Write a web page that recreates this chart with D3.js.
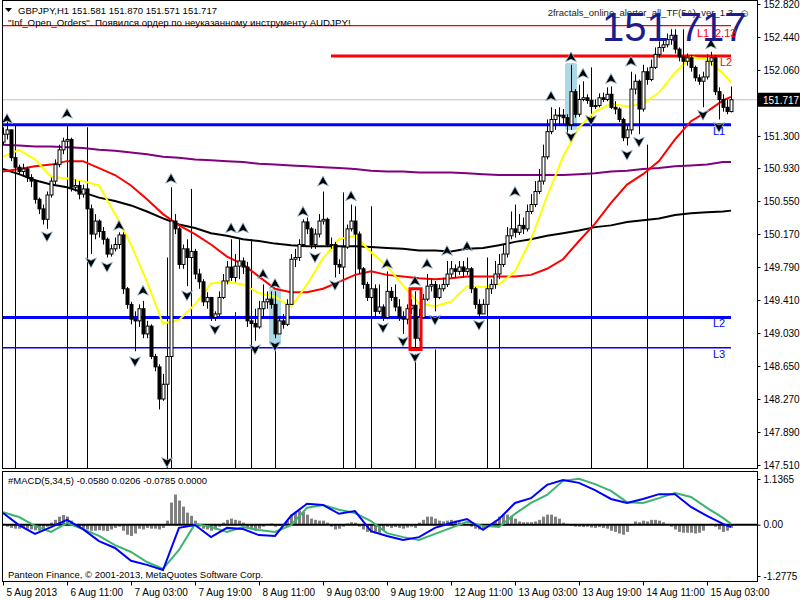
<!DOCTYPE html>
<html>
<head>
<meta charset="utf-8">
<script src="https://cdn.jsdelivr.net/npm/d3@7"></script>
<style>
body { margin: 0; background: #fff; }
text { font-family: "Liberation Sans", Arial, sans-serif; }
</style>
</head>
<body>
<div id="chart"></div>
<script>
// GBPJPY H1, 5 Aug - 15 Aug 2013, one value per bar
const firstOpen = 151.23;
const closes = [
  151.32,151.37,151.05,150.94,150.89,150.92,150.82,150.78,150.57,150.46,
  150.34,150.62,150.78,150.97,151.14,151.24,151.26,150.71,150.73,150.63,
  150.69,150.46,150.17,150.32,150.20,150.11,149.94,150.00,150.05,150.16,
  149.54,149.36,149.19,149.17,149.31,149.02,149.11,148.76,148.64,148.27,
  148.44,148.76,150.32,150.23,149.82,150.00,149.90,149.97,149.71,149.62,
  149.39,149.44,149.21,149.25,149.44,149.63,149.79,149.67,149.80,149.86,
  149.79,149.17,149.14,149.10,149.31,149.39,149.42,149.36,149.02,149.17,
  149.13,149.36,149.88,149.90,150.05,150.31,150.23,150.05,150.17,150.32,
  150.34,150.05,150.05,149.82,149.79,150.02,150.23,150.32,150.17,149.77,
  149.59,149.44,149.54,149.28,149.33,149.21,149.51,149.44,149.33,149.21,
  149.19,149.31,149.35,148.97,149.21,149.42,149.57,149.59,149.44,149.54,
  149.59,149.71,149.77,149.74,149.79,149.74,149.77,149.54,149.36,149.25,
  149.36,149.54,149.59,149.71,149.82,149.94,150.15,150.23,150.19,150.27,
  150.23,150.43,150.51,150.66,150.78,151.06,151.35,151.49,151.54,151.54,
  151.51,151.43,151.81,151.55,151.72,151.74,151.71,151.64,151.65,151.74,
  151.72,151.78,151.63,151.61,151.49,151.28,151.37,151.84,151.93,151.61,
  152.04,151.95,152.09,152.24,152.32,152.35,152.41,152.46,152.30,152.21,
  152.16,152.20,152.09,151.97,151.93,151.98,152.16,152.20,151.81,151.72,
  151.63,151.581,151.717
];
const highs = [
  151.40,151.47,151.37,151.09,150.97,150.98,150.94,150.86,150.80,150.59,
  150.51,150.66,150.82,151.03,151.20,151.28,151.42,151.28,150.80,150.78,
  150.74,150.71,150.51,150.40,150.34,150.25,150.13,150.05,150.13,150.19,
  150.19,149.56,149.39,149.28,149.36,149.40,149.17,149.13,148.79,148.67,
  148.56,148.82,150.63,150.40,150.25,150.05,150.11,150.11,150.00,149.77,
  149.65,149.50,149.44,149.28,149.51,149.71,149.86,150.11,149.94,150.11,
  149.90,149.85,149.31,149.31,149.40,149.59,149.51,149.51,149.51,149.21,
  149.25,149.42,149.94,150.00,150.11,150.34,150.36,150.25,150.23,150.40,
  150.66,150.36,150.13,150.08,149.88,150.11,150.28,150.51,150.36,150.20,
  149.79,149.62,149.62,149.59,149.59,149.36,149.74,149.56,149.59,149.42,
  149.28,149.36,149.42,149.51,149.31,149.48,149.71,149.65,149.63,149.59,
  149.67,149.86,149.86,149.82,149.86,149.86,149.90,149.79,149.56,149.42,
  149.42,149.59,149.65,149.86,149.94,150.05,150.25,150.43,150.51,150.40,
  150.36,150.51,150.63,150.78,150.92,151.20,151.49,151.63,151.61,151.63,
  151.61,151.55,152.12,151.84,151.89,151.93,151.78,151.74,151.72,151.79,
  151.80,151.86,151.87,151.70,151.63,151.51,151.43,152.04,152.01,151.95,
  152.12,152.09,152.18,152.32,152.39,152.41,152.48,152.53,152.53,152.32,
  152.30,152.25,152.23,152.11,152.01,152.04,152.24,152.27,152.23,151.86,
  151.78,151.72,151.870
];
const lows = [
  151.20,151.26,151.01,150.89,150.85,150.85,150.77,150.71,150.52,150.40,
  150.28,150.23,150.59,150.74,150.94,151.09,151.14,150.66,150.66,150.57,
  150.59,150.40,149.94,150.11,150.13,150.05,149.90,149.91,149.97,150.00,
  149.48,149.31,149.13,148.82,149.10,148.97,148.97,148.73,148.59,148.15,
  148.25,148.39,148.73,150.17,149.77,149.77,149.57,149.77,149.65,149.54,
  149.34,149.31,149.17,149.17,149.21,149.42,149.59,149.63,149.62,149.65,
  149.71,149.10,148.97,148.94,149.08,149.21,149.31,149.31,148.97,149.08,
  149.08,149.11,149.36,149.79,149.86,150.02,150.17,150.00,150.00,150.13,
  150.28,150.02,150.00,149.67,149.71,149.77,150.00,150.20,150.11,149.71,
  149.54,149.40,149.36,149.21,149.25,149.17,149.19,149.40,149.28,149.17,
  149.02,149.13,149.25,148.87,148.94,149.19,149.40,149.51,149.28,149.42,
  149.51,149.56,149.67,149.67,149.70,149.67,149.70,149.49,149.31,149.21,
  149.25,149.31,149.48,149.54,149.65,149.79,149.90,150.11,150.13,150.16,
  150.17,150.20,150.40,150.48,150.63,150.74,151.03,151.32,151.37,151.43,
  151.43,151.32,151.37,151.51,151.52,151.70,151.67,151.57,151.61,151.63,
  151.69,151.70,151.61,151.55,151.46,151.24,151.19,151.32,151.78,151.32,
  151.58,151.89,151.93,152.07,152.20,152.27,152.32,152.35,152.25,152.16,
  152.11,152.11,152.04,151.93,151.89,151.63,151.95,152.11,151.77,151.49,
  151.58,151.55,151.571
];

// moving averages, read every 4th bar (last one at bar 182)
const maYellow = [151.06,151.14,151.03,150.83,150.81,150.78,150.73,150.40,150.05,149.62,
  149.14,149.18,149.36,149.60,149.62,149.59,149.49,149.45,149.33,149.59,
  149.89,150.11,150.15,149.96,149.80,149.58,149.37,149.34,149.39,149.57,
  149.56,149.59,149.74,150.11,150.60,151.06,151.40,151.58,151.67,151.64,
  151.67,151.80,152.03,152.21,152.18,152.02,151.92];
const maRed = [150.89,150.92,150.95,150.97,151.01,151.01,150.93,150.85,150.73,150.57,
  150.40,150.27,150.17,150.05,149.91,149.82,149.68,149.54,149.50,149.50,
  149.54,149.62,149.70,149.74,149.70,149.68,149.66,149.65,149.66,149.68,
  149.68,149.68,149.68,149.70,149.77,149.88,150.09,150.29,150.53,150.74,
  150.86,151.01,151.26,151.47,151.58,151.71,151.75];
const maBlack = [150.92,150.86,150.79,150.74,150.71,150.65,150.59,150.55,150.50,150.43,
  150.35,150.28,150.24,150.18,150.15,150.11,150.09,150.06,150.04,150.03,
  150.03,150.03,150.03,150.02,150.01,150.00,149.98,149.98,149.97,150.00,
  150.01,150.04,150.08,150.11,150.15,150.18,150.21,150.25,150.27,150.31,
  150.33,150.35,150.39,150.41,150.42,150.43,150.44];
const maPurple = [151.20,151.19,151.18,151.18,151.17,151.16,151.14,151.13,151.11,151.09,
  151.06,151.05,151.03,151.02,151.01,151.00,150.98,150.97,150.96,150.95,
  150.94,150.93,150.92,150.90,150.89,150.89,150.88,150.88,150.88,150.87,
  150.86,150.85,150.85,150.85,150.85,150.85,150.86,150.87,150.89,150.90,
  150.92,150.93,150.95,150.96,150.97,151.00,151.00];

// MACD(5,34,5): main and signal every 4th bar, histogram for each bar
const macdMain = [0.29,-0.01,-0.23,-0.06,0.12,-0.11,-0.41,-0.58,-0.90,-1.00,
  -1.13,-0.08,-0.01,-0.31,-0.08,-0.11,-0.26,-0.28,0.22,0.52,
  0.49,0.27,0.34,-0.16,-0.28,-0.38,-0.31,-0.08,0.04,0.14,
  -0.13,0.14,0.54,0.66,0.99,1.11,1.04,0.86,0.64,0.54,
  0.64,0.76,0.76,0.44,0.22,0.02,-0.058];
const macdSignal = [0.31,0.19,-0.03,-0.18,0.04,-0.11,-0.28,-0.51,-0.68,-0.93,
  -1.10,-0.63,0.02,-0.06,-0.18,-0.06,-0.13,-0.18,-0.01,0.42,
  0.49,0.37,0.29,0.09,-0.21,-0.31,-0.38,-0.23,-0.08,0.07,
  -0.03,-0.06,0.27,0.54,0.74,1.09,1.14,1.01,0.84,0.56,
  0.54,0.66,0.79,0.69,0.42,0.17,0.0206];
const macdHist = [
  0.02,-0.05,-0.08,-0.1,-0.1,-0.08,-0.1,-0.12,-0.14,-0.15,
  -0.12,-0.05,0.05,0.12,0.2,0.24,0.2,0.1,-0.05,-0.08,
  -0.1,-0.12,-0.15,-0.15,-0.14,-0.15,-0.16,-0.12,-0.08,-0.05,
  -0.15,-0.25,-0.28,-0.22,-0.1,-0.12,-0.08,-0.1,-0.1,-0.12,
  -0.08,0.1,0.55,0.75,0.6,0.45,0.3,0.22,0.1,-0.05,
  -0.1,-0.12,-0.15,-0.12,-0.05,0.05,0.12,0.15,0.12,0.1,
  0.05,-0.08,-0.12,-0.15,-0.1,-0.05,0.02,0.03,-0.05,-0.03,
  -0.02,0.1,0.25,0.3,0.35,0.32,0.25,0.15,0.12,0.1,
  0.1,0.05,-0.05,-0.12,-0.1,-0.05,0.03,0.06,0.05,-0.05,
  -0.12,-0.18,-0.2,-0.22,-0.2,-0.15,-0.05,-0.08,-0.06,-0.08,
  -0.1,-0.07,-0.05,-0.08,0.05,0.12,0.2,0.2,0.15,0.1,
  0.08,0.1,0.12,0.1,0.06,0.05,0.02,-0.05,-0.1,-0.12,
  -0.1,-0.05,0.02,0.1,0.2,0.25,0.25,0.22,0.15,0.08,
  0.06,0.06,0.06,0.08,0.12,0.2,0.25,0.25,0.2,0.15,
  0.05,0.02,-0.03,-0.05,-0.05,-0.06,-0.05,-0.07,-0.08,-0.06,
  -0.08,-0.1,-0.15,-0.18,-0.22,-0.25,-0.18,-0.02,0.08,0.06,
  0.1,0.08,0.12,0.12,0.1,0.06,0.02,-0.05,-0.12,-0.18,
  -0.2,-0.2,-0.2,-0.22,-0.2,-0.15,-0.02,0.02,-0.05,-0.12,
  -0.18,-0.15,-0.0785
];

// fractals: bar index and price where the arrow sits
const fractalUpBars = [1,16,29,35,42,57,60,65,68,75,80,87,96,103,106,111,116,128,137,142,145,152,157,177];
const fractalUpPrices = [151.49,151.55,150.26,149.51,150.80,150.23,150.23,149.70,149.59,150.42,150.77,150.60,149.82,149.62,149.82,149.97,150.02,150.65,151.75,152.20,152.01,151.95,152.15,152.35];
const fractalDownBars = [11,22,26,33,41,46,53,63,68,78,83,95,100,103,108,119,142,147,156,159,175,179];
const fractalDownPrices = [150.15,149.85,149.80,148.71,147.55,149.47,149.08,148.85,148.89,149.91,149.59,149.10,148.94,148.76,149.19,149.13,151.30,151.49,151.09,151.24,151.55,151.41];
const markerBars = [3,16,21,41,42,47,58,62,68,85,88,92,103,108,121,124,147,161,170];
const markerTops = [151.43,151.40,151.40,149.90,150.71,150.69,149.27,150.11,148.90,150.65,150.49,150.49,148.79,148.84,149.90,149.21,152.09,151.20,152.53];

// support / resistance levels
const levelPrices = [152.57, 152.22, 151.43, 149.21, 148.86];
const levelStartBars = [0, 82, 0, 0, 0];
const levelNames = ["", "L2", "L1", "L2", "L3"];
const signalBoxBars = [68, 142];
const signalBoxHigh = [149.54, 152.14];
const signalBoxLow = [148.89, 151.37];
const alertBar = 103, alertHigh = 149.54, alertLow = 148.84;

const lastPrice = 151.717;
// 151.680 sits under the current price tag, so it is not listed
const priceTicks = [152.82,152.44,152.06,151.30,150.93,150.55,150.17,149.79,149.41,149.03,148.65,148.27,147.89,147.51];
const macdTicks = [1.1365, 0, -1.2775];
const macdTickLabels = ["1.1365", "0.00", "-1.2775"];
const timeTickBars = [0,16,32,48,64,80,96,112,128,144,160,176];
const timeLabels = ["5 Aug 2013","6 Aug 11:00","7 Aug 03:00","7 Aug 19:00","8 Aug 11:00","9 Aug 03:00",
  "9 Aug 19:00","12 Aug 11:00","13 Aug 03:00","13 Aug 19:00","14 Aug 11:00","15 Aug 03:00"];

const width = 800, height = 600;
const left = 2, right = 757;
const mainBottom = 468, macdTop = 471, macdBottom = 581;

const svg = d3.select("#chart").append("svg")
  .attr("width", width)
  .attr("height", height)
  .style("display", "block");

const x = d3.scaleLinear().domain([0, closes.length - 1]).range([3, 731]);
const y = d3.scaleLinear().domain([147.51, 152.82]).range([465, 4]);
const ym = d3.scaleLinear().domain([-1.2775, 1.1365]).range([576, 479]);

svg.append("clipPath").attr("id", "mainClip")
  .append("rect").attr("x", left).attr("y", 0).attr("width", right - left).attr("height", mainBottom);
svg.append("clipPath").attr("id", "macdClip")
  .append("rect").attr("x", left).attr("y", macdTop).attr("width", right - left).attr("height", macdBottom - macdTop);

const main = svg.append("g").attr("clip-path", "url(#mainClip)");
const opens = closes.map((c, i) => i === 0 ? firstOpen : closes[i - 1]);
const maBars = d3.range(0, 181, 4).concat([182]);

// last price line
main.append("line")
  .attr("x1", left).attr("x2", right)
  .attr("y1", y(lastPrice)).attr("y2", y(lastPrice))
  .attr("stroke", "#c0c0c0");

// signal boxes behind candles
main.selectAll("rect.sig")
  .data(signalBoxBars)
  .enter().append("rect")
  .attr("x", d => x(d) - 6)
  .attr("width", 12)
  .attr("y", (d, i) => y(signalBoxHigh[i]))
  .attr("height", (d, i) => y(signalBoxLow[i]) - y(signalBoxHigh[i]))
  .attr("rx", 2)
  .attr("fill", "#add8e6");

// vertical fractal markers
main.selectAll("line.mark")
  .data(markerBars)
  .enter().append("line")
  .attr("x1", d => x(d) + 0.5).attr("x2", d => x(d) + 0.5)
  .attr("y1", (d, i) => y(markerTops[i]))
  .attr("y2", mainBottom)
  .attr("stroke", "#000");

// levels
const levelColor = ["#ff0000", "#ff0000", "#0000ff", "#0000ff", "#0000ff"];
const levelWidth = [1.2, 3, 3, 3, 1.5];
main.selectAll("line.level")
  .data(levelPrices)
  .enter().append("line")
  .attr("x1", (d, i) => levelStartBars[i] === 0 ? left : x(levelStartBars[i]))
  .attr("x2", x(closes.length - 1))
  .attr("y1", d => y(d)).attr("y2", d => y(d))
  .attr("stroke", (d, i) => levelColor[i])
  .attr("stroke-width", (d, i) => levelWidth[i]);

// moving averages
const maLine = d3.line().x(d => x(d[0])).y(d => y(d[1]));
[[maPurple, "#800080"], [maBlack, "#000000"], [maRed, "#ff0000"], [maYellow, "#ffff00"]].forEach(([vals, col]) => {
  main.append("path")
    .datum(maBars.map((b, i) => [b, vals[i]]))
    .attr("fill", "none")
    .attr("stroke", col)
    .attr("stroke-width", 2)
    .attr("d", maLine);
});

// candles
const candles = main.selectAll("g.candle")
  .data(closes)
  .enter().append("g");
candles.append("line")
  .attr("x1", (d, i) => x(i) + 0.5).attr("x2", (d, i) => x(i) + 0.5)
  .attr("y1", (d, i) => y(highs[i]))
  .attr("y2", (d, i) => y(lows[i]))
  .attr("stroke", "#000");
candles.append("rect")
  .attr("x", (d, i) => x(i) - 1)
  .attr("width", 3)
  .attr("y", (d, i) => y(Math.max(opens[i], d)))
  .attr("height", (d, i) => Math.max(1, Math.abs(y(opens[i]) - y(d))))
  .attr("fill", (d, i) => d >= opens[i] ? "#fff" : "#000")
  .attr("stroke", "#000")
  .attr("stroke-width", 1);

// alert box
main.append("rect")
  .attr("x", x(alertBar) - 5)
  .attr("width", 11)
  .attr("y", y(alertHigh))
  .attr("height", y(alertLow) - y(alertHigh))
  .attr("fill", "none")
  .attr("stroke", "#ff0000")
  .attr("stroke-width", 3);

// fractal arrows
const upArrow = "M0,-6L5.5,4L0,1.5L-5.5,4Z";
const downArrow = "M0,6L5.5,-4L0,-1.5L-5.5,-4Z";
main.selectAll("path.fup")
  .data(fractalUpBars)
  .enter().append("path")
  .attr("transform", (d, i) => `translate(${x(d)},${y(fractalUpPrices[i])})`)
  .attr("d", upArrow)
  .attr("fill", "#000")
  .attr("stroke", "#9cc3e0")
  .attr("stroke-width", 0.8);
main.selectAll("path.fdn")
  .data(fractalDownBars)
  .enter().append("path")
  .attr("transform", (d, i) => `translate(${x(d)},${y(fractalDownPrices[i])})`)
  .attr("d", downArrow)
  .attr("fill", "#000")
  .attr("stroke", "#9cc3e0")
  .attr("stroke-width", 0.8);

// MACD panel
const macd = svg.append("g").attr("clip-path", "url(#macdClip)");
macd.selectAll("rect.hist")
  .data(macdHist)
  .enter().append("rect")
  .attr("x", (d, i) => x(i) - 1)
  .attr("width", 3)
  .attr("y", d => Math.min(ym(d), ym(0)))
  .attr("height", d => Math.abs(ym(d) - ym(0)))
  .attr("fill", "#808080");
macd.append("line")
  .attr("x1", left).attr("x2", right)
  .attr("y1", ym(0)).attr("y2", ym(0))
  .attr("stroke", "#000").attr("stroke-width", 2);
const macdLine = d3.line().x(d => x(d[0])).y(d => ym(d[1]));
macd.append("path")
  .datum(maBars.map((b, i) => [b, macdSignal[i]]))
  .attr("fill", "none").attr("stroke", "#3cb371").attr("stroke-width", 2)
  .attr("d", macdLine);
macd.append("path")
  .datum(maBars.map((b, i) => [b, macdMain[i]]))
  .attr("fill", "none").attr("stroke", "#0000ff").attr("stroke-width", 2)
  .attr("d", macdLine);

// frames
svg.append("rect").attr("x", left + 0.5).attr("y", 0.5)
  .attr("width", right - left).attr("height", mainBottom)
  .attr("fill", "none").attr("stroke", "#000");
svg.append("rect").attr("x", left + 0.5).attr("y", macdTop + 0.5)
  .attr("width", right - left).attr("height", macdBottom - macdTop)
  .attr("fill", "none").attr("stroke", "#000");

// axes
const yAxis = svg.append("g")
  .attr("transform", `translate(${right + 0.5},0)`)
  .call(d3.axisRight(y).tickValues(priceTicks).tickFormat(d3.format(".3f")).tickSizeInner(3).tickSizeOuter(0));
const macdAxis = svg.append("g")
  .attr("transform", `translate(${right + 0.5},0)`)
  .call(d3.axisRight(ym).tickValues(macdTicks).tickFormat((d, i) => macdTickLabels[i]).tickSizeInner(3).tickSizeOuter(0));
const xAxis = svg.append("g")
  .attr("transform", `translate(0,${macdBottom + 0.5})`)
  .call(d3.axisBottom(x).tickValues(timeTickBars).tickFormat((d, i) => timeLabels[i]).tickSizeInner(4).tickSizeOuter(0));
[yAxis, macdAxis, xAxis].forEach(g => {
  g.select(".domain").remove();
  g.selectAll("text").attr("font-family", "Liberation Sans, Arial, sans-serif").attr("font-size", 10).attr("fill", "#000");
});
xAxis.selectAll("text").attr("text-anchor", "start").attr("dx", 3);

// current price tag
svg.append("rect").attr("x", right + 1).attr("y", y(lastPrice) - 7)
  .attr("width", 43).attr("height", 14).attr("fill", "#000");
svg.append("text").attr("x", right + 6).attr("y", y(lastPrice) + 4)
  .attr("font-size", 10).attr("fill", "#fff").text(d3.format(".3f")(lastPrice));

// header texts
svg.append("path").attr("d", "M5,8L12,8L8.5,12Z").attr("fill", "#000");
svg.append("text").attr("x", 18).attr("y", 14).attr("font-size", 9.5)
  .text("GBPJPY,H1  151.581 151.870 151.571 151.717");
svg.append("text").attr("x", 8).attr("y", 26).attr("font-size", 9.7)
  .text("\"Inf_Open_Orders\". Появился ордер по неуказанному инструменту AUDJPY!");
svg.append("text").attr("x", 733).attr("y", 16).attr("font-size", 9.5).attr("text-anchor", "end").attr("fill", "#222")
  .text("2fractals_online_alerter_all_TF(5A)_ver_1.3");
svg.append("text").attr("x", 739).attr("y", 17).attr("font-size", 11).attr("font-family", "DejaVu Sans").text("☺");
svg.append("text").attr("x", 602).attr("y", 41).attr("font-size", 40).attr("fill", "#1c1c8c")
  .text(d3.format(".3f")(lastPrice));

// level labels (drawn over the big price, as in the terminal)
const levelLabelColor = ["#ff0000", "#ff0000", "#0000ff", "#0000ff", "#0000ff"];
svg.selectAll("text.lvl")
  .data(levelPrices)
  .enter().append("text")
  .attr("x", (d, i) => i === 1 ? 720 : 713)
  .attr("y", d => y(d) + 10)
  .attr("font-size", 11)
  .attr("fill", (d, i) => levelLabelColor[i])
  .text((d, i) => levelNames[i]);
svg.append("text").attr("x", 697).attr("y", 37).attr("font-size", 11).attr("fill", "#ff0000").text("L1");
svg.append("text").attr("x", 715).attr("y", 37).attr("font-size", 11).attr("fill", "#ff0000").text("2.13");

svg.append("text").attr("x", 8).attr("y", 484).attr("font-size", 9.5)
  .text("#MACD(5,34,5) -0.0580 0.0206 -0.0785 0.0000");
svg.append("text").attr("x", 8).attr("y", 578).attr("font-size", 9.5)
  .text("Panteon Finance, © 2001-2013, MetaQuotes Software Corp.");
</script>
</body>
</html>
